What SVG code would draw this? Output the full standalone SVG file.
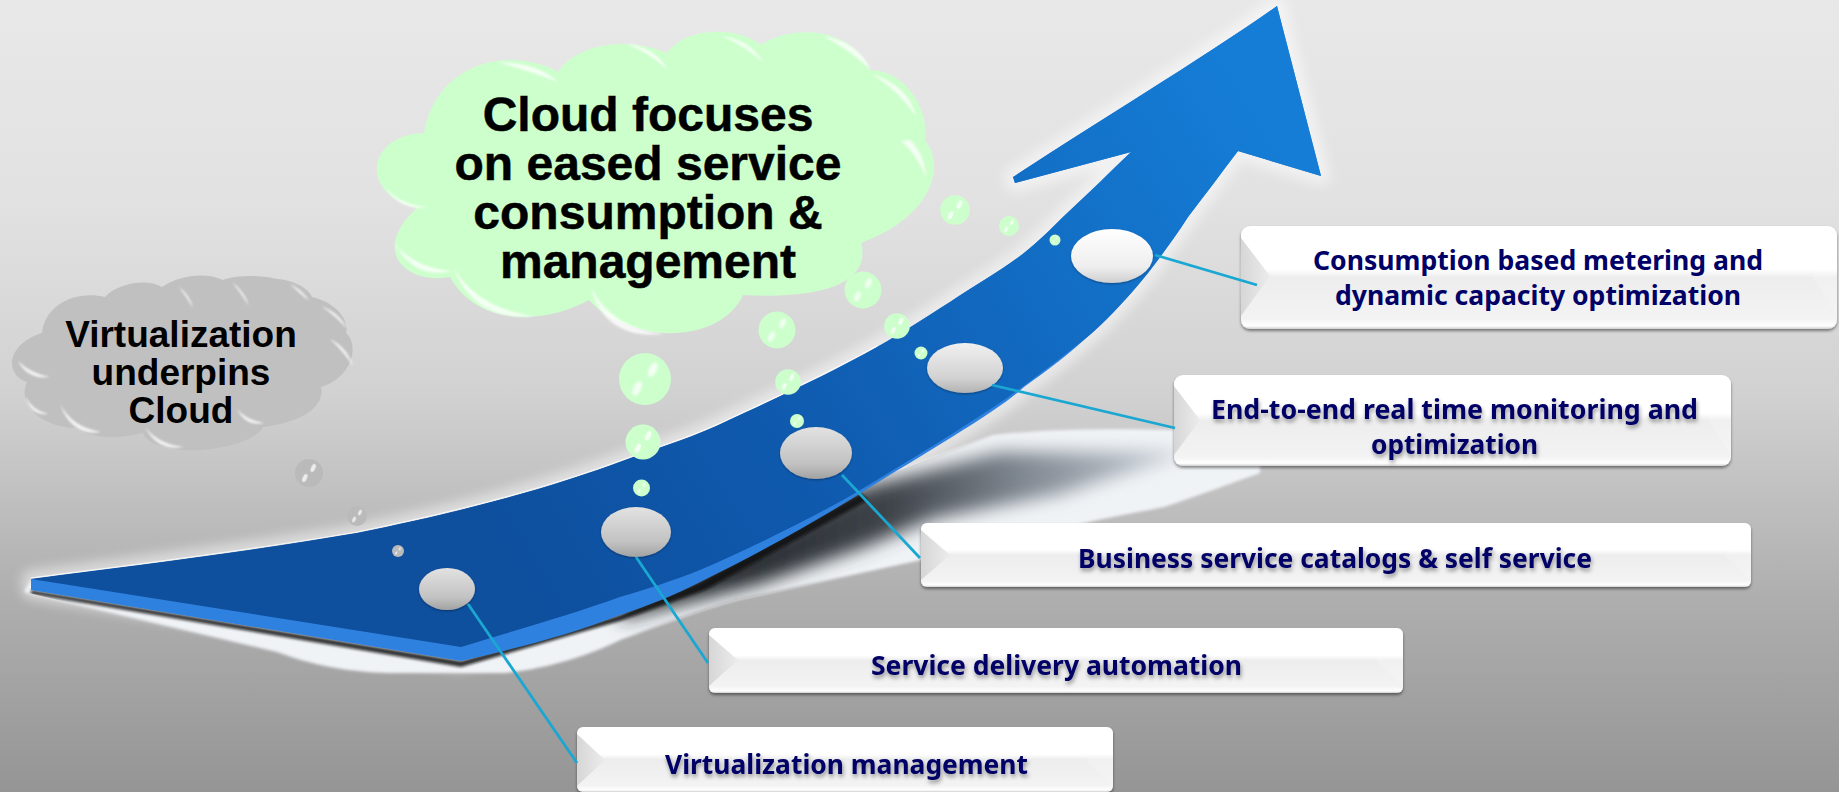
<svg xmlns="http://www.w3.org/2000/svg" width="1839" height="792" viewBox="0 0 1839 792">
<style>
.big{font:bold 48px "Liberation Sans",Arial,sans-serif;fill:#000;text-anchor:middle;stroke:#000;stroke-width:.5}
.mid{font:bold 37px "Liberation Sans",Arial,sans-serif;fill:#000;text-anchor:middle}
.lbl{font:bold 26.5px "Noto Sans",sans-serif;fill:#000066}
.sh{filter:url(#txtShadow)}
.conn{stroke:#1aa7d2;stroke-width:2.8;fill:none}
.hl{fill:#fff;filter:url(#b1);opacity:.8}
.box{fill:url(#boxG);filter:url(#boxShadow)}
.bev{fill:url(#bevG)}
.bevR{fill:#fff;opacity:.18}
</style>
<defs>
<linearGradient id="bg" x1="0" y1="0" x2="0" y2="1">
<stop offset="0" stop-color="#e9e8e9"/><stop offset=".25" stop-color="#e3e2e3"/><stop offset=".5" stop-color="#d2d1d2"/><stop offset=".75" stop-color="#b0afb0"/><stop offset="1" stop-color="#959595"/>
</linearGradient>
<linearGradient id="surf" gradientUnits="userSpaceOnUse" x1="500" y1="560" x2="1250" y2="100">
<stop offset="0" stop-color="#0e4f9e"/><stop offset=".35" stop-color="#0f5aae"/><stop offset="1" stop-color="#157dd6"/>
</linearGradient>
<linearGradient id="dark" gradientUnits="userSpaceOnUse" x1="700" y1="0" x2="1180" y2="0">
<stop offset="0" stop-color="#22262b"/><stop offset=".4" stop-color="#3f444a"/><stop offset=".65" stop-color="#7b838c"/><stop offset=".85" stop-color="#a6aeb7"/><stop offset="1" stop-color="#c4cbd3"/>
</linearGradient>
<linearGradient id="boxG" x1="0" y1="0" x2="0" y2="1">
<stop offset="0" stop-color="#fff"/><stop offset=".42" stop-color="#fff"/><stop offset=".5" stop-color="#ededed"/><stop offset=".9" stop-color="#f3f3f3"/><stop offset=".97" stop-color="#fff"/><stop offset="1" stop-color="#cfcfcf"/>
</linearGradient>
<linearGradient id="bevG" x1="0" y1="0" x2="1" y2="0">
<stop offset="0" stop-color="#d6d6d6"/><stop offset="1" stop-color="#ececec"/>
</linearGradient>
<linearGradient id="eLow" x1="0" y1="0" x2="0" y2="1"><stop offset="0" stop-color="#e2e2e2"/><stop offset=".7" stop-color="#c2c2c2"/><stop offset="1" stop-color="#a2a2a2"/></linearGradient>
<linearGradient id="eMid" x1="0" y1="0" x2="0" y2="1"><stop offset="0" stop-color="#f0f0f0"/><stop offset=".7" stop-color="#d2d2d2"/><stop offset="1" stop-color="#b2b2b2"/></linearGradient>
<linearGradient id="eHigh" x1="0" y1="0" x2="0" y2="1"><stop offset="0" stop-color="#fff"/><stop offset=".7" stop-color="#eeeeee"/><stop offset="1" stop-color="#cfcfcf"/></linearGradient>
<filter id="b04" x="-50%" y="-50%" width="200%" height="200%"><feGaussianBlur stdDeviation=".45"/></filter>
<filter id="b1" x="-30%" y="-30%" width="160%" height="160%"><feGaussianBlur stdDeviation="1.1"/></filter>
<filter id="b2" x="-10%" y="-10%" width="120%" height="120%"><feGaussianBlur stdDeviation="1.5"/></filter>
<filter id="b6" x="-10%" y="-20%" width="120%" height="140%"><feGaussianBlur stdDeviation="6"/></filter>
<filter id="b9" x="-10%" y="-20%" width="120%" height="140%"><feGaussianBlur stdDeviation="9"/></filter>
<filter id="txtShadow" x="-5%" y="-30%" width="110%" height="170%"><feDropShadow dx="1" dy="3" stdDeviation="2" flood-color="#000" flood-opacity=".4"/></filter>
<filter id="boxShadow" x="-3%" y="-10%" width="106%" height="125%"><feDropShadow dx="0" dy="2" stdDeviation="1.6" flood-color="#000" flood-opacity=".45"/></filter>
<filter id="eShadow" x="-20%" y="-20%" width="140%" height="150%"><feDropShadow dx="0" dy="1" stdDeviation="1.2" flood-color="#000" flood-opacity=".35"/></filter>
<clipPath id="shClip"><path d="M24,592 L277,652 C320,668 360,673 395,673 L506,673 C550,668 590,655 620,640 C660,625 700,610 736,600 L921,560 C980,545 1040,535 1089,522 C1120,515 1140,512 1164,507 C1200,495 1240,480 1260,473 L1260,430 L1175,430 C1100,428 1040,430 993,435 L900,470 L461,640 L31,580 Z"/></clipPath>
<g id="bub"><circle r="10"/><ellipse cx="3" cy="-3.6" rx="1.5" ry="3" transform="rotate(25 3 -3.6)" fill="#fff" opacity=".75" filter="url(#b04)"/><ellipse cx="-3" cy="3.6" rx="1.5" ry="3" transform="rotate(25 -3 3.6)" fill="#fff" opacity=".75" filter="url(#b04)"/></g>
</defs>

<rect id="background" width="1839" height="792" fill="url(#bg)"/>

<g id="arrow">
<path d="M31,579 C130,566 240,553 357,533 C460,512 545,490 625,460 C660,447 695,437 729,420 C790,392 830,373 877,347 C905,331 925,318 950,302 C978,283 1000,272 1024,253 C1040,240 1050,230 1063,217 C1090,192 1110,172 1131,152 L1015,183 L1013,177 C1100,120 1200,60 1277,6 L1321,176 L1238,151 C1222,172 1205,195 1188,217 C1175,237 1162,255 1148,273 C1130,295 1112,315 1092,333 C1070,353 1048,370 1024,387 C1000,410 930,450 861,493 C810,525 755,555 700,582 C675,595 650,605 620,615 C570,635 510,650 461,661 L31,590 Z" fill="none" stroke="#fff" stroke-width="18" stroke-linejoin="round" opacity=".5" filter="url(#b6)"/>
<path d="M24,592 L277,652 C320,668 360,673 395,673 L506,673 C550,668 590,655 620,640 C660,625 700,610 736,600 L921,560 C980,545 1040,535 1089,522 C1120,515 1140,512 1164,507 C1200,495 1240,480 1260,473 L1260,430 L1175,430 C1100,428 1040,430 993,435 L900,470 L461,640 L31,580 Z" fill="#f0f3f6" filter="url(#b2)"/>
<g clip-path="url(#shClip)">
<path d="M620,608 L700,576 L861,488 L1000,452 L1190,452 L1060,494 L935,518 L862,548 L760,584 L620,620 Z" fill="url(#dark)" filter="url(#b9)"/>
<path d="M31,590 L461,661 L620,615 L700,582 L861,493 L868,500 L705,590 L620,621 L461,667 L31,594 Z" fill="#0d0d0d" filter="url(#b2)" opacity=".85"/>
</g>
<path d="M31,579 C130,566 240,553 357,533 C460,512 545,490 625,460 C660,447 695,437 729,420 C790,392 830,373 877,347 C905,331 925,318 950,302 C978,283 1000,272 1024,253 C1040,240 1050,230 1063,217 C1090,192 1110,172 1131,152 L1015,183 L1013,177 C1100,120 1200,60 1277,6 L1321,176 L1238,151 C1222,172 1205,195 1188,217 C1175,237 1162,255 1148,273 C1130,295 1112,315 1092,333 C1070,353 1048,370 1024,387 C1000,410 930,450 861,493 C810,525 755,555 700,582 C675,595 650,605 620,615 C570,635 510,650 461,661 L31,590 Z" fill="#2f81df"/>
<path d="M31,579 C130,566 240,553 357,533 C460,512 545,490 625,460 C660,447 695,437 729,420 C790,392 830,373 877,347 C905,331 925,318 950,302 C978,283 1000,272 1024,253 C1040,240 1050,230 1063,217 C1090,192 1110,172 1131,152 L1015,183 L1013,177 C1100,120 1200,60 1277,6 L1321,176 L1238,151 C1222,172 1205,195 1188,217 C1175,237 1162,255 1148,273 C1130,295 1112,315 1092,333 C1065,355 1035,378 1007,398 C960,430 905,463 857,492 C805,522 750,548 700,570 C675,580 650,588 620,597 C570,615 510,632 461,647 Z" fill="url(#surf)"/>
<path d="M31,578 C130,565 240,552 357,532 C460,511 545,489 625,459 C660,446 695,436 729,419 C790,391 830,372 877,346" fill="none" stroke="#fff" stroke-width="1.2" opacity=".75"/>
</g>

<g id="cloud-large">
<path d="M424,133 C432,85 470,60 510,60 C530,60 548,66 558,72 C575,45 625,35 667,53 C685,28 735,25 761,45 C790,25 850,25 870,70 C905,70 930,110 925,140 C945,165 935,215 861,243 C870,275 840,300 743,295 C720,345 630,345 589,300 C550,322 480,330 450,277 C405,285 370,250 417,208 C360,195 365,135 424,133 Z" fill="#ccffcc"/>
<path class="hl" d="M497,62 Q538,63 558,82 Q530,71 497,62Z"/>
<path class="hl" d="M627,44 Q655,47 668,70 Q650,53 627,44Z"/>
<path class="hl" d="M722,36 Q750,40 763,62 Q745,46 722,36Z"/>
<path class="hl" d="M823,36 Q858,42 871,70 Q850,50 823,36Z"/>
<path class="hl" d="M872,74 Q908,86 916,116 Q898,90 872,74Z"/>
<path class="hl" d="M901,141 L910,140 Q925,155 926,178 Q918,155 901,141Z"/>
<path class="hl" d="M383,184 Q398,205 428,207 Q400,212 383,184Z"/>
<path class="hl" d="M395,244 Q415,268 452,271 Q415,280 395,244Z"/>
<path class="hl" d="M453,268 Q480,310 535,316 Q475,322 453,268Z"/>
<path class="hl" d="M591,288 Q612,328 664,334 Q605,340 591,288Z"/>
<text class="big" x="648" y="131">Cloud focuses</text>
<text class="big" x="648" y="180">on eased service</text>
<text class="big" x="648" y="229">consumption &amp;</text>
<text class="big" x="648" y="278">management</text>
</g>

<g id="cloud-small">
<path d="M42,333 C45,305 75,290 105,297 C115,285 145,277 162,287 C180,275 205,272 223,280 C235,275 265,275 277,279 C295,280 310,290 312,297 C335,302 350,320 346,333 C360,345 352,378 321,387 C325,405 305,422 263,427 C255,445 195,455 170,448 C150,445 145,438 143,433 C115,440 90,438 75,428 C50,428 15,410 27,382 C5,375 5,345 42,333 Z" fill="#c1c0c1"/>
<path class="hl" d="M179,287 Q190,295 193,308 Q186,296 179,287Z"/>
<path class="hl" d="M232,282 Q245,292 249,306 Q241,293 232,282Z"/>
<path class="hl" d="M290,284 Q303,290 309,301 Q298,292 290,284Z"/>
<path class="hl" d="M321,306 Q340,313 347,329 Q336,316 321,306Z"/>
<path class="hl" d="M330,339 Q347,347 353,366 Q343,351 330,339Z"/>
<path class="hl" d="M18,361 Q30,373 50,377 Q28,380 18,361Z"/>
<path class="hl" d="M25,396 Q32,410 48,414 Q30,416 25,396Z"/>
<path class="hl" d="M60,404 Q72,427 101,432 Q72,437 60,404Z"/>
<path class="hl" d="M145,427 Q158,444 184,447 Q158,452 145,427Z"/>
<path class="hl" d="M237,409 Q246,420 264,423 Q246,427 237,409Z"/>
<text class="mid" x="181" y="347">Virtualization</text>
<text class="mid" x="181" y="385">underpins</text>
<text class="mid" x="181" y="423">Cloud</text>
</g>

<g id="bubbles">
<g fill="#ccffcc">
<use href="#bub" transform="translate(645,379) scale(2.6)"/>
<use href="#bub" transform="translate(643,442) scale(1.75)"/>
<use href="#bub" transform="translate(641.5,488) scale(.85)"/>
<use href="#bub" transform="translate(777,330) scale(1.85)"/>
<use href="#bub" transform="translate(788,382) scale(1.28)"/>
<use href="#bub" transform="translate(797,421) scale(.7)"/>
<use href="#bub" transform="translate(863,290) scale(1.85)"/>
<use href="#bub" transform="translate(897,326) scale(1.28)"/>
<use href="#bub" transform="translate(921,353) scale(.65)"/>
<use href="#bub" transform="translate(955,210) scale(1.48)"/>
<use href="#bub" transform="translate(1009,226) scale(1)"/>
<use href="#bub" transform="translate(1055,240) scale(.55)"/>
</g>
<g fill="#bbbabb">
<use href="#bub" transform="translate(309,473) scale(1.4)"/>
<use href="#bub" transform="translate(357,516) scale(1)"/>
<use href="#bub" transform="translate(398,551) scale(.6)"/>
</g>
</g>

<g id="dot-1"><ellipse cx="447" cy="589" rx="28" ry="21" fill="url(#eLow)" filter="url(#eShadow)"/></g>
<g id="dot-2"><ellipse cx="636" cy="532" rx="35" ry="25" fill="url(#eLow)" filter="url(#eShadow)"/></g>
<g id="dot-3"><ellipse cx="816" cy="453" rx="36" ry="26" fill="url(#eLow)" filter="url(#eShadow)"/></g>
<g id="dot-4"><ellipse cx="965" cy="368" rx="38" ry="25" fill="url(#eMid)" filter="url(#eShadow)"/></g>
<g id="dot-5"><ellipse cx="1112" cy="256" rx="41" ry="27" fill="url(#eHigh)" filter="url(#eShadow)"/></g>

<g id="box-consumption">
<rect class="box" x="1241" y="226" width="596" height="103" rx="9"/>
<path class="bev" d="M1241,238 L1270,276 L1241,316 Q1240,276 1241,238Z"/>
<path class="bevR" d="M1837,238 L1812,276 L1837,316Z"/>
<text class="lbl" x="1313" y="270" textLength="450" lengthAdjust="spacingAndGlyphs">Consumption based metering and</text>
<text class="lbl" x="1335" y="305" textLength="406" lengthAdjust="spacingAndGlyphs">dynamic capacity optimization</text>
</g>
<g id="box-monitoring">
<rect class="box" x="1174" y="375" width="557" height="91" rx="9"/>
<path class="bev" d="M1174,386 L1200,420 L1174,455Z"/>
<path class="bevR" d="M1731,386 L1708,420 L1731,455Z"/>
<text class="lbl sh" x="1211" y="419" textLength="487" lengthAdjust="spacingAndGlyphs">End-to-end real time monitoring and</text>
<text class="lbl sh" x="1371" y="454" textLength="167" lengthAdjust="spacingAndGlyphs">optimization</text>
</g>
<g id="box-catalogs">
<rect class="box" x="921" y="523" width="830" height="64" rx="6"/>
<path class="bev" d="M921,530 L950,555 L921,580Z"/>
<path class="bevR" d="M1751,530 L1725,555 L1751,580Z"/>
<text class="lbl sh" x="1078" y="568" textLength="514" lengthAdjust="spacingAndGlyphs">Business service catalogs &amp; self service</text>
</g>
<g id="box-delivery">
<rect class="box" x="709" y="628" width="694" height="65" rx="6"/>
<path class="bev" d="M709,635 L738,660 L709,686Z"/>
<path class="bevR" d="M1403,635 L1376,660 L1403,686Z"/>
<text class="lbl sh" x="871" y="675" textLength="371" lengthAdjust="spacingAndGlyphs">Service delivery automation</text>
</g>
<g id="box-virtualization">
<rect class="box" x="577" y="727" width="536" height="65" rx="6"/>
<path class="bev" d="M577,734 L605,760 L577,786Z"/>
<path class="bevR" d="M1113,734 L1086,760 L1113,786Z"/>
<text class="lbl sh" x="665" y="774" textLength="363" lengthAdjust="spacingAndGlyphs">Virtualization management</text>
</g>

<g id="connectors">
<line class="conn" x1="468" y1="604" x2="577" y2="763"/>
<line class="conn" x1="636" y1="557" x2="708" y2="663"/>
<line class="conn" x1="842" y1="475" x2="920" y2="558"/>
<line class="conn" x1="992" y1="385" x2="1175" y2="428"/>
<line class="conn" x1="1155" y1="255" x2="1257" y2="285"/>
</g>
</svg>
